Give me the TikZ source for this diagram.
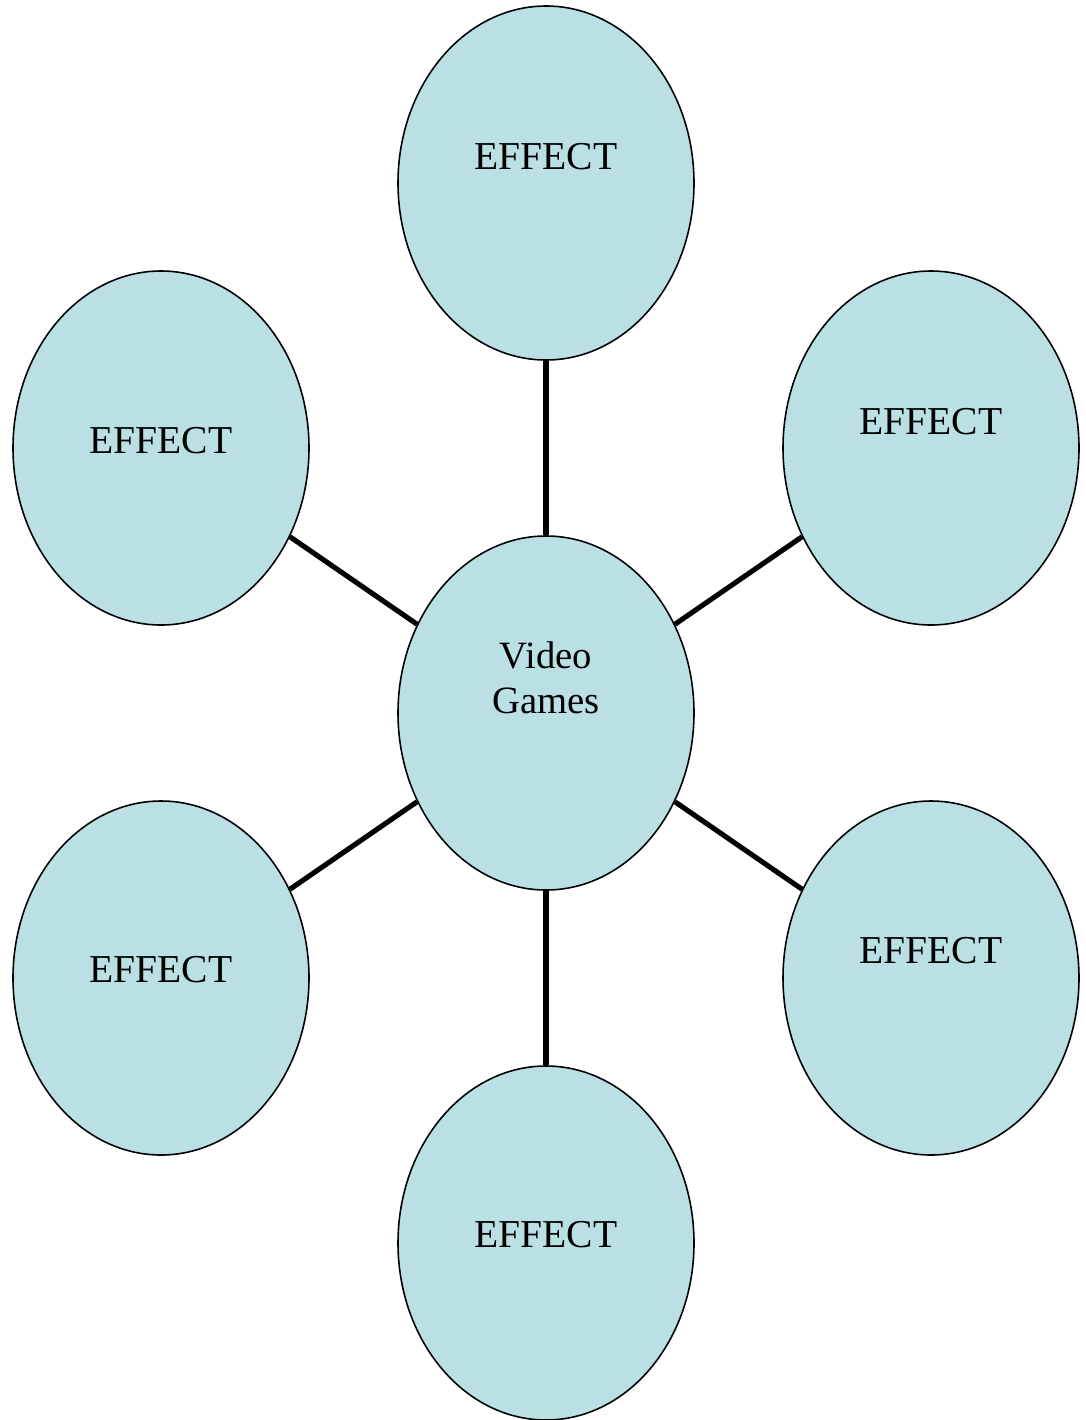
\documentclass[tikz,border=0pt]{standalone}
\usepackage{fontspec}
\setmainfont{Liberation Serif}
\usetikzlibrary{shapes.geometric}
\definecolor{bubblefill}{RGB}{186,224,227}
\tikzset{
bubble/.style={ellipse, draw=black, line width=0.9pt, fill=bubblefill, minimum width=5.92cm, minimum height=7.08cm, inner sep=0pt},
spoke/.style={line width=2.9pt},
effecttext/.style={font=\fontsize{22.5}{27}\selectfont, inner sep=0pt}
}
\begin{document}
\begin{tikzpicture}
\useasboundingbox (0,0) rectangle (21.7,-28.4);

%Bubbles
\node[bubble] (hub) at (10.92,-14.26){};
\node[bubble] (top) at (10.92,-3.66){};
\node[bubble] (topleft) at (3.22,-8.96){};
\node[bubble] (topright) at (18.62,-8.96){};
\node[bubble] (botleft) at (3.22,-19.56){};
\node[bubble] (botright) at (18.62,-19.56){};
\node[bubble] (bot) at (10.92,-24.86){};

%Texts of the bubbles
\node[effecttext, align=center, font=\fontsize{22}{25.6}\selectfont] (hubtext) at (10.92,-13.56){Video\\Games};
\node[effecttext] (toptext) at (10.92,-3.14){EFFECT};
\node[effecttext] (topletext) at (3.22,-8.82){EFFECT};
\node[effecttext] (toprtext) at (18.62,-8.44){EFFECT};
\node[effecttext] (botletext) at (3.22,-19.40){EFFECT};
\node[effecttext] (botrtext) at (18.62,-19.02){EFFECT};
\node[effecttext] (bottext) at (10.92,-24.70){EFFECT};

%Spokes
\draw[spoke] (hub)--(top);
\draw[spoke] (hub)--(topleft);
\draw[spoke] (hub)--(topright);
\draw[spoke] (hub)--(botleft);
\draw[spoke] (hub)--(botright);
\draw[spoke] (hub)--(bot);

\end{tikzpicture}
\end{document}
